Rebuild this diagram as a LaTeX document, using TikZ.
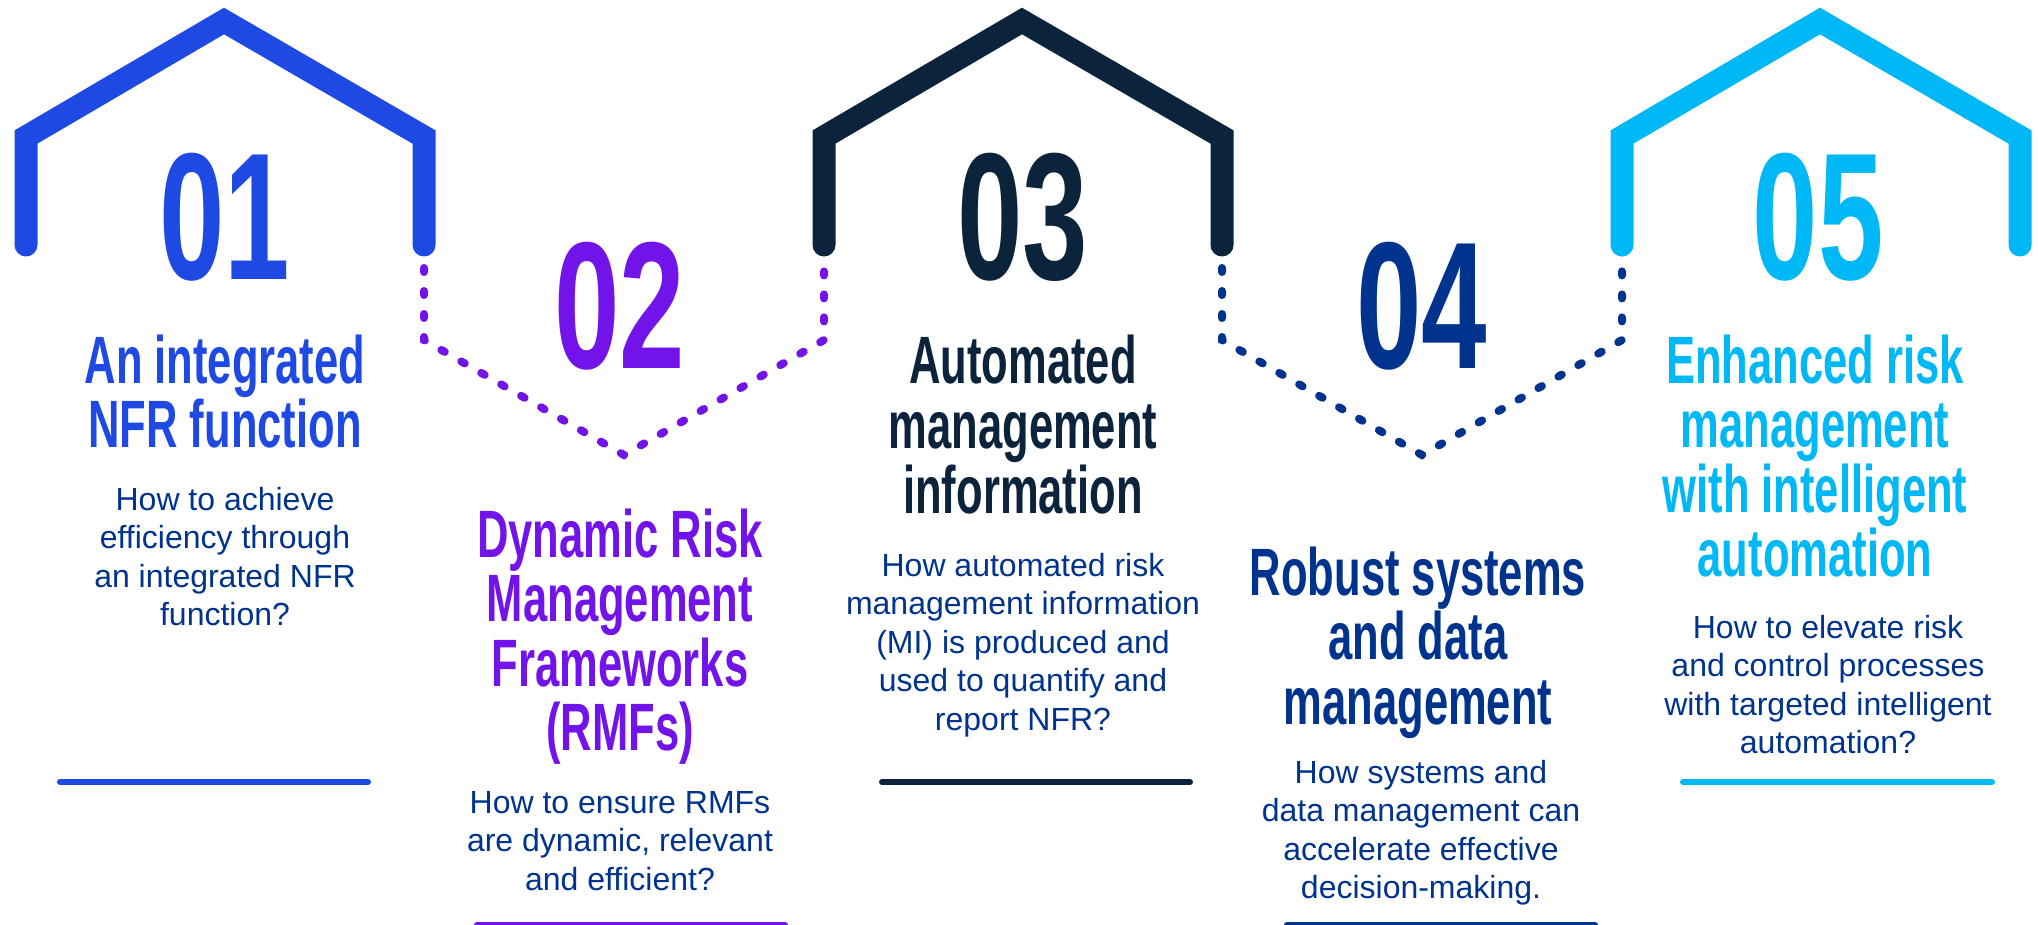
\documentclass[tikz,border=0pt]{standalone}
\usepackage{fontspec}
\newfontfamily\hdfont{Liberation Sans}[FakeStretch=0.65]
\newfontfamily\bdfont{Liberation Sans}
\definecolor{cobalt}{HTML}{1E49E2}
\definecolor{kpurple}{HTML}{7213EA}
\definecolor{darkb}{HTML}{0C233C}
\definecolor{kblue}{HTML}{00338D}
\definecolor{lblue}{HTML}{00B8F5}
\tikzset{
  hd/.style={font=\hdfont\bfseries\fontsize{67}{64.5}\selectfont, anchor=base, inner sep=0pt},
  bd/.style={font=\bdfont\fontsize{32}{38.5}\selectfont, text=kblue, anchor=base, inner sep=0pt},
  num/.style={font=\hdfont\bfseries\fontsize{181}{181}\selectfont, anchor=base, inner sep=0pt},
  house/.style={line width=23pt, line join=miter, line cap=round},
  dotv/.style={line width=8pt, line cap=round, dash pattern=on 4pt off 19pt},
  bar/.style={line width=6pt, line cap=round}
}
\begin{document}
\begin{tikzpicture}[x=1pt,y=-1pt]
\fill[white] (0,0) rectangle (2038,925);
\useasboundingbox (0,0) rectangle (2038,925);

% leg end coordinates
\coordinate (h1l) at (26,245);   \coordinate (h1r) at (424,245);
\coordinate (h3l) at (824,245);  \coordinate (h3r) at (1222,245);
\coordinate (h5l) at (1622,245); \coordinate (h5r) at (2020,245);

% dotted connectors
\draw[dotv, kpurple] (h1r) -- (424,340) -- (624,455) -- (824,340) -- (h3l);
\draw[dotv, kblue] (h3r) -- (1222,340) -- (1422,455) -- (1622,340) -- (h5l);

% houses
\draw[house, cobalt] (h1l) -- (26,137) -- (224,21) -- (424,137) -- (h1r);
\draw[house, darkb] (h3l) -- (824,137) -- (1022,21) -- (1222,137) -- (h3r);
\draw[house, lblue] (h5l) -- (1622,137) -- (1820,21) -- (2020,137) -- (h5r);

% numbers
\node[num, text=cobalt] (n1) at (225,280) {01};
\node[num, text=kpurple] (n2) at (620,368) {02};
\node[num, text=darkb] (n3) at (1023,280) {03};
\node[num, text=kblue] (n4) at (1422,368) {04};
\node[num, text=lblue] (n5) at (1818,280) {05};

% headings
\foreach \t [count=\i] in {An integrated, NFR function}
  \node[hd, text=cobalt] (t1-\i) at (225,{383+64.5*(\i-1)}) {\t};
\foreach \t [count=\i] in {Dynamic Risk, Management, Frameworks, (RMFs)}
  \node[hd, text=kpurple] (t2-\i) at (620,{557+64.5*(\i-1)}) {\t};
\foreach \t [count=\i] in {Automated, management, information}
  \node[hd, text=darkb] (t3-\i) at (1023,{384+64.5*(\i-1)}) {\t};
\foreach \t [count=\i] in {Robust systems, and data, management}
  \node[hd, text=kblue] (t4-\i) at (1418,{595+64.5*(\i-1)}) {\t};
\foreach \t [count=\i] in {Enhanced risk, management, with intelligent, automation}
  \node[hd, text=lblue] (t5-\i) at (1815,{383+64.5*(\i-1)}) {\t};

% body texts
\foreach \t [count=\i] in {How to achieve, efficiency through, an integrated NFR, function?}
  \node[bd] (b1-\i) at (225,{510+38.5*(\i-1)}) {\t};
\foreach \t [count=\i] in {How to ensure RMFs, {are dynamic, relevant}, and efficient?}
  \node[bd] (b2-\i) at (620,{813+38.5*(\i-1)}) {\t};
\foreach \t [count=\i] in {How automated risk, management information, (MI) is produced and, used to quantify and, report NFR?}
  \node[bd] (b3-\i) at (1023,{576+38.5*(\i-1)}) {\t};
\foreach \t [count=\i] in {How systems and, data management can, accelerate effective, decision-making.}
  \node[bd] (b4-\i) at (1421,{783+38.5*(\i-1)}) {\t};
\foreach \t [count=\i] in {How to elevate risk, and control processes, with targeted intelligent, automation?}
  \node[bd] (b5-\i) at (1828,{638+38.5*(\i-1)}) {\t};

% bars
\draw[bar, cobalt] (60,782) -- (368,782);
\draw[bar, kpurple] (477,925) -- (785,925);
\draw[bar, darkb] (882,782) -- (1190,782);
\draw[bar, kblue] (1287,925) -- (1595,925);
\draw[bar, lblue] (1683,782) -- (1992,782);
\end{tikzpicture}
\end{document}
